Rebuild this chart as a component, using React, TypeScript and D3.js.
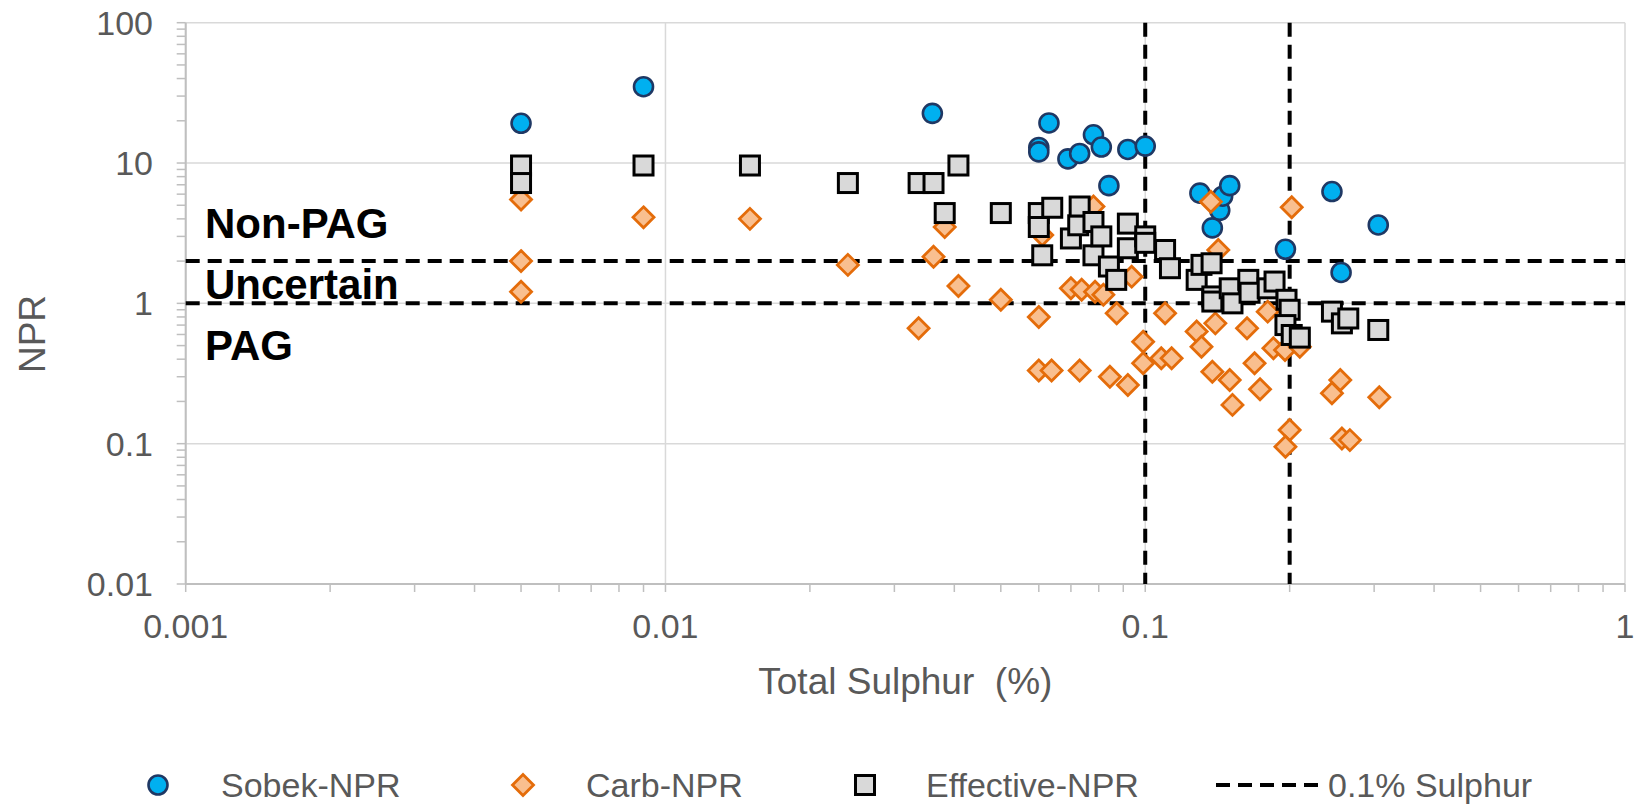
import React from "react";
import * as d3 from "d3";

// ---- data (Total Sulphur %, NPR) ----
const sobekNPR: [number, number][] = [
  [0.005, 19.2], [0.009, 35], [0.036, 22.6], [0.06, 12.9], [0.06, 12.0], [0.063, 19.3],
  [0.069, 10.7], [0.073, 11.7], [0.078, 15.9], [0.081, 13.0], [0.084, 6.9], [0.092, 12.5],
  [0.1, 13.2], [0.13, 6.1], [0.138, 3.45], [0.143, 4.6], [0.145, 5.8], [0.15, 6.9],
  [0.196, 2.43], [0.245, 6.26], [0.256, 1.66], [0.306, 3.62],
];

const carbNPR: [number, number][] = [
  [0.005, 5.5], [0.005, 2.0], [0.005, 1.21], [0.009, 4.1], [0.015, 4.0], [0.024, 1.88],
  [0.0337, 0.665], [0.0362, 2.15], [0.0382, 3.5], [0.0408, 1.33], [0.05, 1.06], [0.061, 3.07],
  [0.06, 0.8], [0.06, 0.332], [0.0638, 0.332], [0.07, 1.28], [0.073, 0.332], [0.0737, 1.25],
  [0.078, 4.9], [0.0786, 1.21], [0.0818, 1.15], [0.0844, 0.3], [0.0872, 0.85], [0.092, 0.262],
  [0.0937, 1.55], [0.099, 0.533], [0.099, 0.374], [0.108, 0.406], [0.1135, 0.406], [0.11, 0.85],
  [0.137, 5.3], [0.142, 2.4], [0.128, 0.63], [0.131, 0.49], [0.14, 0.72], [0.138, 0.326],
  [0.15, 0.284], [0.152, 0.189], [0.163, 0.665], [0.169, 0.374], [0.1735, 0.244], [0.18, 0.873],
  [0.185, 0.479], [0.1956, 0.465], [0.21, 0.49], [0.202, 4.84], [0.2, 0.125], [0.196, 0.095],
  [0.245, 0.229], [0.255, 0.284], [0.257, 0.109], [0.267, 0.106], [0.3075, 0.214],
];

const effectiveNPR: [number, number][] = [
  [0.005, 9.6], [0.005, 7.2], [0.009, 9.6], [0.015, 9.6], [0.024, 7.2], [0.0337, 7.2],
  [0.0362, 7.2], [0.0382, 4.4], [0.0408, 9.6], [0.05, 4.4], [0.06, 4.4], [0.06, 3.5],
  [0.061, 2.2], [0.064, 4.8], [0.07, 2.9], [0.0725, 3.6], [0.073, 4.9], [0.078, 3.8],
  [0.078, 2.2], [0.081, 3.0], [0.084, 1.83], [0.087, 1.47], [0.092, 3.7], [0.092, 2.47],
  [0.1, 3.0], [0.1, 2.7], [0.11, 2.4], [0.1126, 1.78], [0.128, 1.47], [0.131, 1.88],
  [0.1375, 1.93], [0.138, 1.12], [0.138, 1.03], [0.15, 1.28], [0.152, 1.0], [0.164, 1.47],
  [0.165, 1.19], [0.18, 1.28], [0.186, 1.43], [0.197, 1.06], [0.2, 0.9], [0.196, 0.7],
  [0.202, 0.595], [0.21, 0.57], [0.245, 0.873], [0.257, 0.72], [0.265, 0.78], [0.306, 0.646],
];

const nprThresholds = [2, 1];
const sulphurThresholds = [0.1, 0.2];
const xTickValues = [0.001, 0.01, 0.1, 1];
const xTickLabels = ["0.001", "0.01", "0.1", "1"];
const yTickValues = [0.01, 0.1, 1, 10, 100];
const yTickLabels = ["0.01", "0.1", "1", "10", "100"];
const zoneLabels = ["Non-PAG", "Uncertain", "PAG"];
const legendLabels = ["Sobek-NPR", "Carb-NPR", "Effective-NPR", "0.1% Sulphur"];

const FONT = "'Liberation Sans', Arial, sans-serif";
const GRAY = "#595959";

const W = 1650, H = 806;
const plot = { left: 185.7, right: 1625, top: 22.7, bottom: 584 };

const x = d3.scaleLog().domain([0.001, 1]).range([plot.left, plot.right]);
const y = d3.scaleLog().domain([0.01, 100]).range([plot.bottom, plot.top]);

function minorTicks(lo: number, hi: number): number[] {
  const out: number[] = [];
  for (let p = lo; p < hi; p *= 10) {
    for (let k = 2; k <= 9; k++) out.push(p * k);
  }
  return out;
}

const Circle = ({ cx, cy }: { cx: number; cy: number }) => (
  <circle cx={cx} cy={cy} r={9.5} fill="#00b0f0" stroke="#1f3864" strokeWidth={2.6} />
);
const Diamond = ({ cx, cy }: { cx: number; cy: number }) => {
  const r = 10.5;
  return (
    <path
      d={`M${cx},${cy - r}L${cx + r},${cy}L${cx},${cy + r}L${cx - r},${cy}Z`}
      fill="#f9bf8f"
      stroke="#e46c0a"
      strokeWidth={2.8}
    />
  );
};
const Square = ({ cx, cy }: { cx: number; cy: number }) => (
  <rect x={cx - 9.5} y={cy - 9.5} width={19} height={19} fill="#d9d9d9" stroke="#000" strokeWidth={3} />
);

export default function App() {
  const xMinor = minorTicks(0.001, 1);
  const yMinor = minorTicks(0.01, 100);
  const dash = "14 8";
  const legendY = 785;
  return (
    <svg width={W} height={H} style={{ position: "absolute", left: 0, top: 0, background: "#fff" }} fontFamily={FONT}>
      <rect x={0} y={0} width={W} height={H} fill="#fff" />
      {/* gridlines */}
      {xTickValues.map((v) => (
        <line key={"gx" + v} x1={x(v)} x2={x(v)} y1={plot.top} y2={plot.bottom} stroke="#d9d9d9" strokeWidth={1.5} />
      ))}
      {yTickValues.map((v) => (
        <line key={"gy" + v} x1={plot.left} x2={plot.right} y1={y(v)} y2={y(v)} stroke="#d9d9d9" strokeWidth={1.5} />
      ))}
      {/* axes */}
      <line x1={plot.left} x2={plot.left} y1={plot.top} y2={plot.bottom} stroke="#bfbfbf" strokeWidth={2} />
      <line x1={plot.left} x2={plot.right} y1={plot.bottom} y2={plot.bottom} stroke="#bfbfbf" strokeWidth={2} />
      {[...yTickValues, ...yMinor].map((v, i) => (
        <line key={"ty" + i} x1={plot.left - 9} x2={plot.left} y1={y(v)} y2={y(v)} stroke="#bfbfbf" strokeWidth={1.5} />
      ))}
      {[...xTickValues, ...xMinor].map((v, i) => (
        <line key={"tx" + i} x1={x(v)} x2={x(v)} y1={plot.bottom} y2={plot.bottom + 8} stroke="#bfbfbf" strokeWidth={1.5} />
      ))}
      {/* tick labels */}
      {yTickValues.map((v, i) => (
        <text key={"ly" + v} x={153} y={y(v)} dy="0.35em" textAnchor="end" fontSize={34} fill={GRAY}>
          {yTickLabels[i]}
        </text>
      ))}
      {xTickValues.map((v, i) => (
        <text key={"lx" + v} x={x(v)} y={638} textAnchor="middle" fontSize={34} fill={GRAY}>
          {xTickLabels[i]}
        </text>
      ))}
      {/* axis titles */}
      <text x={(plot.left + plot.right) / 2} y={694} textAnchor="middle" fontSize={37} fill={GRAY} style={{ whiteSpace: "pre" }}>
        {"Total Sulphur  (%)"}
      </text>
      <text transform={`translate(45, 334) rotate(-90)`} textAnchor="middle" fontSize={37} fill={GRAY}>
        NPR
      </text>
      {/* threshold lines */}
      {nprThresholds.map((v) => (
        <line key={"hn" + v} x1={plot.left} x2={plot.right} y1={y(v)} y2={y(v)} stroke="#000" strokeWidth={4} strokeDasharray={dash} />
      ))}
      {sulphurThresholds.map((v) => (
        <line key={"vs" + v} x1={x(v)} x2={x(v)} y1={plot.top} y2={plot.bottom} stroke="#000" strokeWidth={4} strokeDasharray={dash} />
      ))}
      {/* zone labels */}
      {zoneLabels.map((t, i) => (
        <text key={t} x={205} y={[238, 299, 360][i]} fontSize={42} fontWeight="bold" fill="#000">
          {t}
        </text>
      ))}
      {/* series */}
      {sobekNPR.map(([a, b], i) => (
        <Circle key={"s" + i} cx={x(a)} cy={y(b)} />
      ))}
      {carbNPR.map(([a, b], i) => (
        <Diamond key={"c" + i} cx={x(a)} cy={y(b)} />
      ))}
      {effectiveNPR.map(([a, b], i) => (
        <Square key={"e" + i} cx={x(a)} cy={y(b)} />
      ))}
      {/* legend */}
      <Circle cx={158} cy={legendY} />
      <text x={221} y={legendY} dy="0.35em" fontSize={34} fill={GRAY}>{legendLabels[0]}</text>
      <Diamond cx={523} cy={legendY} />
      <text x={586} y={legendY} dy="0.35em" fontSize={34} fill={GRAY}>{legendLabels[1]}</text>
      <Square cx={865} cy={legendY} />
      <text x={926} y={legendY} dy="0.35em" fontSize={34} fill={GRAY}>{legendLabels[2]}</text>
      <line x1={1216} x2={1324} y1={legendY} y2={legendY} stroke="#000" strokeWidth={4} strokeDasharray="14 8" />
      <text x={1328} y={legendY} dy="0.35em" fontSize={34} fill={GRAY}>{legendLabels[3]}</text>
    </svg>
  );
}
